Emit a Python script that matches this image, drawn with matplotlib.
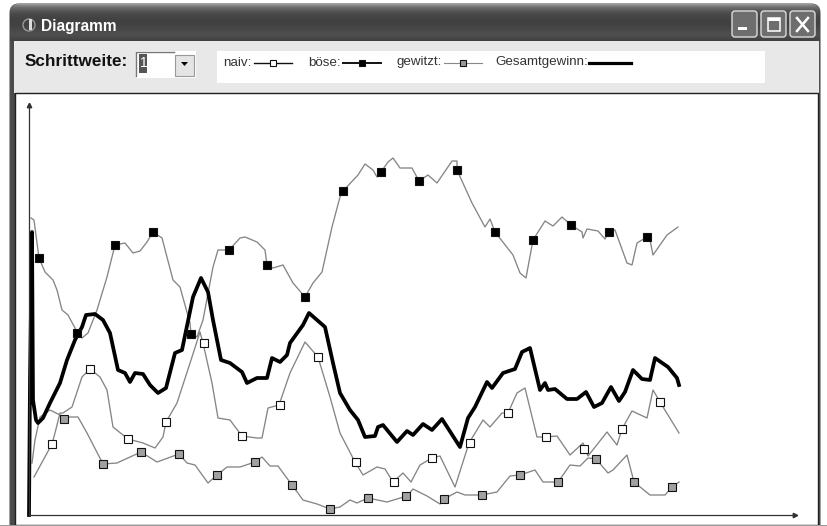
import numpy as np
import matplotlib
matplotlib.use("Agg")
import matplotlib.pyplot as plt
from matplotlib.patches import Rectangle, FancyBboxPatch, Polygon
from matplotlib.lines import Line2D

# ---------- data (step, gain) ----------
naiv_x = [5,23,26,31,34,43,53,61,71,78,84,99,114,126,134,137,148,163,171,174,183,189,201,213,228,233,239,250,261,276,289,301,311,326,334,348,356,364,374,382,391,403,411,426,440,454,461,473,479,488,496,508,517,528,541,554,559,578,588,593,603,618,624,631,650]
naiv_y = [38,71,82,102,102,108,138,146,138,125,88,76,72,67,78,93,112,158,183,172,132,97,95,79,77,77,107,110,142,173,158,118,82,53,40,48,46,33,42,33,50,57,59,28,72,95,88,102,102,122,127,78,78,79,60,72,59,83,70,86,104,97,125,113,82]
naiv_mx = [23,61,99,137,175,213,251,289,327,365,403,441,479,517,555,593,631]
naiv_my = [71,146,76,93,172,79,110,158,53,33,57,72,102,78,66,86,113]

gewitzt_x = [3,6,11,21,35,49,58,74,88,112,128,150,158,166,179,188,198,211,226,233,241,249,263,274,288,301,311,321,328,339,358,378,384,398,411,415,428,436,453,468,481,491,506,514,529,541,551,559,567,579,584,598,605,621,636,643,650]
gewitzt_y = [52,75,98,105,98,98,82,51,52,63,53,61,52,50,32,40,48,48,53,58,49,49,30,15,11,6,8,15,12,17,13,19,26,19,11,16,23,20,20,23,39,40,45,33,33,50,49,57,56,42,45,60,33,20,20,28,33]
gewitzt_mx = [35,74,112,150,188,226,263,301,339,377,415,453,491,529,567,605,643]
gewitzt_my = [96,51,63,61,40,53,30,6,17,19,16,20,40,33,56,33,28]

boese_x = [2,5,8,10,16,24,28,33,39,46,48,53,59,68,78,86,96,104,111,118,124,133,144,151,161,162,168,174,184,189,200,211,216,228,236,238,244,254,264,276,284,293,303,311,314,329,336,344,348,352,359,364,371,383,390,399,408,423,428,428,443,456,461,466,484,491,497,504,516,524,533,542,553,554,558,569,576,580,586,598,603,608,618,621,624,638,649]
boese_y = [297,295,272,257,243,235,225,205,200,187,182,177,182,205,238,270,272,262,264,273,283,277,235,228,192,181,178,195,248,265,265,277,278,273,265,250,247,250,232,218,232,243,288,318,324,340,351,345,338,343,353,357,347,347,334,340,332,354,354,345,312,288,296,283,260,242,237,275,294,289,298,290,283,277,286,284,276,283,285,252,250,272,278,275,260,280,288]
boese_mx = [10,48,86,124,162,200,238,276,314,352,390,428,466,504,542,580,618]
boese_my = [257,182,270,283,181,265,250,218,324,343,334,345,283,275,290,283,278]

gesamt_x = [0,1,3,4,7,9,14,21,31,38,46,53,57,66,74,81,89,96,101,106,114,121,129,137,146,153,164,172,179,184,192,201,213,218,228,238,243,251,258,261,274,280,296,304,311,321,329,336,346,349,354,368,378,384,394,403,413,431,439,446,458,463,474,486,493,501,511,516,519,526,538,548,557,565,573,582,590,596,604,613,621,626,639,648,650]
gesamt_y = [0,135,283,115,95,92,97,112,132,155,175,188,200,201,195,182,145,142,133,142,141,130,122,127,162,165,218,237,223,195,155,152,143,132,137,137,157,153,160,172,190,202,188,152,122,105,95,78,79,88,90,73,84,80,91,85,96,68,97,108,133,127,142,146,163,167,125,132,125,126,116,116,123,108,112,128,114,123,145,136,135,157,148,137,130]

title = "Diagramm"
step_label = "Schrittweite:"
legend_labels = ["naiv:", "böse:", "gewitzt:", "Gesamtgewinn:"]

W, H = 828, 526
fig = plt.figure(figsize=(W/100, H/100), dpi=100, facecolor="white")
plt.rcParams["font.family"] = ["Liberation Sans", "DejaVu Sans"]

# ---------- window chrome (pixel coordinates) ----------
bg = fig.add_axes([0, 0, 1, 1])
bg.set_xlim(0, W); bg.set_ylim(H, 0); bg.axis("off")

frame = FancyBboxPatch((10, 4), 810, 560, boxstyle="round,pad=0,rounding_size=9",
                       fc="#4a4a4a", ec="#555555", lw=0.8)
bg.add_patch(frame)
grad = np.array([.62,.50,.42,.37,.33,.30,.28,.27,.26,.26,.26,.26,.27,.28,.29,.30,.31,.30,.28,.26])[:, None]
im = bg.imshow(grad, extent=(9, 822, 41, 3), cmap="gray", vmin=0, vmax=1, aspect="auto", zorder=2)
im.set_clip_path(frame)
bg.set_xlim(0, W); bg.set_ylim(H, 0)

bg.add_patch(Rectangle((14, 41), 805, 52, fc="#e8e8e8", ec="none", zorder=3))
bg.add_patch(Rectangle((15, 93), 803, 432, fc="white", ec="#202020", lw=1, zorder=3))
bg.add_patch(Rectangle((217, 51), 548, 32, fc="white", ec="none", zorder=4))
bg.add_patch(Rectangle((0, 525), W, 1, fc="#999999", ec="none", zorder=5))

bg.text(41, 26, title, color="white", fontsize=11.2, fontweight="bold", va="center", zorder=6)
# window icon
bg.add_patch(plt.Circle((29, 25), 6, fc="none", ec="#999999", lw=1, zorder=6))
bg.add_patch(Rectangle((29, 19), 3, 11, fc="#dddddd", ec="none", zorder=6))

# window buttons
for x0 in (732, 761, 790):
    bg.add_patch(FancyBboxPatch((x0, 11), 25, 26, boxstyle="round,pad=0,rounding_size=3",
                                fc="#6e6e6e", ec="#dcdcdc", lw=1, zorder=6))
bg.add_patch(Rectangle((738, 27), 9, 3, fc="white", ec="none", zorder=7))
bg.add_patch(Rectangle((768, 18), 12, 13, fc="none", ec="white", lw=1.1, zorder=7))
bg.add_patch(Rectangle((768, 18), 12, 3, fc="white", ec="none", zorder=7))
bg.add_artist(Line2D([797, 808], [18, 31], color="white", lw=1.8, zorder=7))
bg.add_artist(Line2D([797, 808], [31, 18], color="white", lw=1.8, zorder=7))

# combo box
bg.text(25, 62, step_label, color="#111111", fontsize=12.3, fontweight="bold", va="center", zorder=6)
bg.add_patch(Rectangle((136, 51), 60, 27, fc="white", ec="none", zorder=5))
bg.add_artist(Line2D([136, 136, 174], [76, 52, 52], color="#777777", lw=1, zorder=6))
bg.add_patch(Rectangle((139, 54), 8, 19, fc="#555555", ec="none", zorder=6))
bg.text(140, 63, "1", color="white", fontsize=10, va="center", zorder=7)
bg.add_patch(Rectangle((175, 55), 19, 21, fc="#e4e4e4", ec="#999999", lw=0.8, zorder=6))
bg.add_patch(Polygon([[181, 62], [188, 62], [184.5, 66]], fc="black", ec="none", zorder=7))

# legend
text_kw = dict(color="#333333", fontsize=9.6, va="center", zorder=6)
bg.text(223, 62.5, legend_labels[0], **text_kw)
bg.text(308, 62.5, legend_labels[1], **text_kw)
bg.text(397, 62.5, legend_labels[2], **text_kw)
bg.text(495, 62.5, legend_labels[3], **text_kw)
samples = [((254, 292), 273, "#111111", 1.0, "white"),
           ((343, 381), 362, "#111111", 1.4, "black"),
           ((444, 482), 463, "#888888", 0.8, "#999999")]
for (x0, x1), xm, col, lw, fc in samples:
    bg.add_artist(Line2D([x0, x1], [63, 63], color=col, lw=lw, zorder=6))
    bg.add_artist(Line2D([xm], [63], marker="s", ms=5, mfc=fc, mec="#111111", mew=0.8, ls="", zorder=7))
bg.add_artist(Line2D([589, 631], [63, 63], color="black", lw=2.3, zorder=6))

# ---------- chart ----------
ax = fig.add_axes([29/W, 1 - 515/H, (795-29)/W, (515-105)/H], facecolor="none")
ax.set_xlim(0, 766); ax.set_ylim(0, 410)
ax.set_xticks([]); ax.set_yticks([])
for s in ("top", "right"):
    ax.spines[s].set_visible(False)
for s in ("left", "bottom"):
    ax.spines[s].set_color("#333333"); ax.spines[s].set_linewidth(0.9)
ax.plot(1, 0, ">", transform=ax.transAxes, color="#333333", ms=3.2, clip_on=False)
ax.plot(0, 1, "^", transform=ax.transAxes, color="#333333", ms=3.2, clip_on=False)

line_kw = dict(color="#858585", lw=0.95, solid_joinstyle="round")
ax.plot(naiv_x, naiv_y, **line_kw)
ax.plot(gewitzt_x, gewitzt_y, **line_kw)
ax.plot(boese_x, boese_y, **line_kw)
ax.plot(gesamt_x, gesamt_y, color="black", lw=2.7, solid_joinstyle="round", clip_on=False)
mk = dict(ls="", marker="s", ms=5.5, mec="#111111", mew=0.8, clip_on=False)
ax.plot(naiv_mx, naiv_my, mfc="white", **mk)
ax.plot(gewitzt_mx, gewitzt_my, mfc="#a0a0a0", **mk)
ax.plot(boese_mx, boese_my, mfc="black", **mk)

fig.savefig("out.png", dpi=100)
